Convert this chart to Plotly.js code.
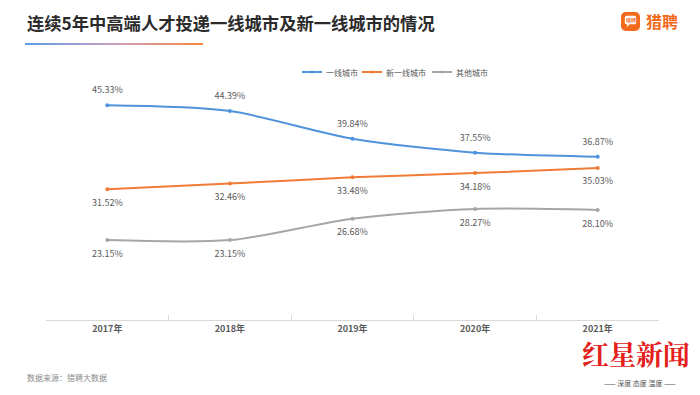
<!DOCTYPE html>
<html><head><meta charset="utf-8">
<script src="https://cdn.plot.ly/plotly-3.0.1.min.js"></script>
<style>html,body{margin:0;padding:0;background:#fff;}#chart{width:700px;height:395px;}</style>
</head><body><div id="chart"></div>
<script>
const years = ['2017年','2018年','2019年','2020年','2021年'];
const tier1 = [45.33, 44.39, 39.84, 37.55, 36.87];
const newTier1 = [31.52, 32.46, 33.48, 34.18, 35.03];
const others = [23.15, 23.15, 26.68, 28.27, 28.10];
const seriesNames = ['一线城市','新一线城市','其他城市'];
const colors = ['#4f93dc','#f07b34','#a6a6a6'];

const fontFam = '"Noto Sans CJK SC", "Noto Sans", sans-serif';
const W = 613, H = 243, L = 46, T = 77;
const px = x => (x - L) / W;
const py = y => 1 - (y - T) / H;

function line(vals, i){
  return {
    x: years, y: vals, name: seriesNames[i], type:'scatter', mode:'lines+markers',
    line:{color:colors[i], width:2, shape:'spline', smoothing:0.8},
    marker:{color:colors[i], size:4}, showlegend:false, cliponaxis:false, hoverinfo:'skip'
  };
}
function labels(vals, pos){
  return {
    x: years, y: vals, type:'scatter', mode:'markers+text', showlegend:false,
    marker:{size:14, color:'rgba(0,0,0,0)'},
    text: vals.map(v=>v.toFixed(2)+'%'), textposition: pos,
    textfont:{size:9, color:'#595959', family:fontFam}, cliponaxis:false, hoverinfo:'skip'
  };
}
const traces = [line(tier1,0), line(newTier1,1), line(others,2),
  labels(tier1,'top center'), labels(newTier1,'bottom center'), labels(others,'bottom center')];

const gradSvg = '<svg xmlns="http://www.w3.org/2000/svg" width="180" height="2"><defs><linearGradient id="g"><stop offset="0" stop-color="#5b9be8"/><stop offset="0.5" stop-color="#c9a0c0"/><stop offset="1" stop-color="#f7863c"/></linearGradient></defs><rect width="180" height="2" fill="url(#g)"/></svg>';
const logoSvg = '<svg xmlns="http://www.w3.org/2000/svg" width="20" height="20"><rect x="0" y="0" width="20" height="20" rx="5" fill="#f26a1b"/><path d="M4 6 Q4 4 6 4 L14 4 Q16 4 16 6 L16 11 Q16 13 14 13 L9 13 L6 16 L6.5 13 L6 13 Q4 13 4 11 Z" fill="#fff"/><text x="10" y="11" font-size="5" text-anchor="middle" fill="#f26a1b" font-weight="bold">猎聘</text></svg>';

// custom legend
const legX = [302, 362, 432];
const legY = 72;
const shapes = [];
const legAnn = [];
seriesNames.forEach((n,i)=>{
  shapes.push({type:'line', xref:'paper', yref:'paper', x0:px(legX[i]), x1:px(legX[i]+20), y0:py(legY), y1:py(legY),
    line:{color:colors[i], width:2}});
  shapes.push({type:'circle', xref:'paper', yref:'paper', x0:px(legX[i]+8.5), x1:px(legX[i]+11.5), y0:py(legY+1.5), y1:py(legY-1.5),
    fillcolor:colors[i], line:{width:0}});
  legAnn.push({text:n, xref:'paper', yref:'paper', x:px(legX[i]+22), y:py(legY), xanchor:'left', yanchor:'middle',
    showarrow:false, font:{size:8, color:'#595959', family:fontFam}});
});

const layout = {
  width:700, height:395, paper_bgcolor:'#fff', plot_bgcolor:'#fff',
  margin:{l:46, r:41, t:77, b:75},
  showlegend:false,
  xaxis:{type:'category', range:[-0.5,4.5], showgrid:false, showline:true, linecolor:'#d9d9d9', linewidth:1,
    ticks:'inside', ticklen:5, tickcolor:'#d9d9d9', tickson:'boundaries', fixedrange:true,
    tickfont:{size:9, color:'#595959', family:fontFam, weight:'bold'}, zeroline:false},
  yaxis:{range:[10,50], visible:false, fixedrange:true},
  shapes: shapes,
  images:[
    {source:'data:image/svg+xml;utf8,'+encodeURIComponent(gradSvg), xref:'paper', yref:'paper', layer:'above',
     x:px(25), y:py(43), sizex:178/W, sizey:2/H, xanchor:'left', yanchor:'top', sizing:'stretch'},
    {source:'data:image/svg+xml;utf8,'+encodeURIComponent(logoSvg), xref:'paper', yref:'paper',
     x:px(621), y:py(12), sizex:19/W, sizey:19/H, xanchor:'left', yanchor:'top', sizing:'stretch'}
  ],
  annotations:[
    {text:'<b>连续5年中高端人才投递一线城市及新一线城市的情况</b>', xref:'paper', yref:'paper',
     x:px(25), y:py(22), xanchor:'left', yanchor:'middle', showarrow:false,
     font:{size:17.3, color:'#2b2b2b', family:fontFam}},
    {text:'<b>猎聘</b>', xref:'paper', yref:'paper', x:px(644), y:py(21), xanchor:'left', yanchor:'middle',
     showarrow:false, font:{size:16, color:'#f26a1b', family:fontFam}},
    {text:'数据来源：猎聘大数据', xref:'paper', yref:'paper', x:px(25), y:py(377), xanchor:'left', yanchor:'middle',
     showarrow:false, font:{size:8, color:'#8c8c8c', family:fontFam}},
    {text:'<b>红星新闻</b>', xref:'paper', yref:'paper', x:px(692), y:py(353), xanchor:'right', yanchor:'middle',
     showarrow:false, font:{size:27, color:'#e3201b', family:'"Noto Serif CJK SC", "Noto Sans CJK SC", serif'}},
    {text:'—— 深度 态度 温度 ——', xref:'paper', yref:'paper', x:px(640), y:py(383), xanchor:'center', yanchor:'middle',
     showarrow:false, font:{size:7, color:'#555', family:fontFam}}
  ].concat(legAnn)
};
Plotly.newPlot('chart', traces, layout, {displayModeBar:false, staticPlot:true});
</script></body></html>
